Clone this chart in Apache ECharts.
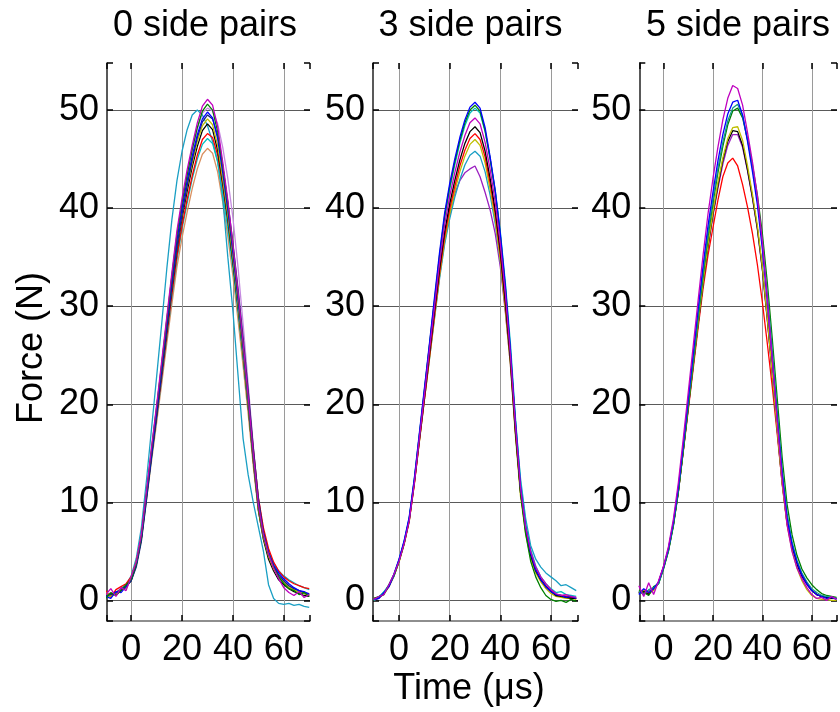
<!DOCTYPE html>
<html><head><meta charset="utf-8">
<script src="https://cdn.jsdelivr.net/npm/echarts@6/dist/echarts.min.js"></script>
<style>html,body{margin:0;padding:0;background:#fff}#c{width:840px;height:712px}</style>
</head><body><div id="c"></div>
<script>
// time axis (microseconds), sampled every 2 us
const time = [-10,-8,-6,-4,-2,0,2,4,6,8,10,12,14,16,18,20,22,24,26,28,30,32,34,36,38,40,42,44,46,48,50,52,54,56,58,60,62,64,66,68,70];
const panelTitles = ['0 side pairs','3 side pairs','5 side pairs'];
const xTickLabels = [0,20,40,60];
const yTickLabels = [0,10,20,30,40,50];
const xLabel = 'Time (\u03bcs)';
const yLabel = 'Force (N)';

// ---- 0 side pairs ----
const p0_lavender = [0.5,0.8,0.6,1.2,1.5,2.2,3.8,6.5,10.9,15.3,19.6,24.0,28.5,33.0,37.1,40.4,43.3,45.9,48.1,49.7,50.2,49.9,48.6,46.2,43.0,39.0,34.0,28.2,22.0,15.8,10.4,7.0,4.8,3.4,2.5,1.9,1.4,1.1,0.9,0.7,0.5];
const p0_tan = [0.6,0.5,0.9,1.0,1.5,2.1,3.6,6.2,10.2,14.2,18.1,22.1,26.2,30.2,34.0,37.0,39.6,42.0,44.0,45.5,46.1,45.6,43.7,40.6,37.1,33.1,28.6,23.9,19.0,13.7,9.1,6.3,4.4,3.2,2.4,1.9,1.5,1.2,1.0,0.8,0.6];
const p0_teal = [0.3,0.6,0.8,1.2,1.6,2.5,4.3,7.4,12.2,17.5,22.8,28.2,33.8,38.8,42.8,45.8,48.0,49.5,50.0,49.5,48.4,46.8,44.8,41.0,35.0,29.5,23.0,16.5,12.8,10.0,7.5,5.0,1.6,0.2,-0.3,-0.4,-0.3,-0.5,-0.4,-0.6,-0.7];
const p0_cyan = [0.4,0.7,0.5,1.1,1.3,2.1,3.7,6.3,10.4,14.5,18.5,22.6,26.8,30.9,34.8,37.9,40.5,43.0,45.0,46.5,47.1,46.6,44.7,41.5,37.9,33.9,29.5,24.8,19.8,14.5,9.8,6.9,5.0,3.8,3.0,2.5,2.1,1.8,1.5,1.3,1.1];
const p0_red = [1.0,0.3,1.1,1.4,1.7,2.4,3.9,6.5,10.6,14.7,18.7,22.8,27.0,31.2,35.1,38.2,40.9,43.3,45.4,47.0,47.6,47.2,45.4,42.3,38.8,34.8,30.5,25.8,20.8,15.4,10.5,7.4,5.3,3.9,3.0,2.4,2.0,1.7,1.5,1.3,1.2];
const p0_black = [0.3,0.7,0.6,1.0,1.4,2.0,3.6,6.3,10.6,14.8,18.9,23.2,27.5,31.8,35.8,39.0,41.7,44.2,46.3,47.9,48.6,48.0,45.9,42.5,38.8,34.5,29.9,25.0,19.8,14.2,9.2,6.2,4.2,3.0,2.1,1.6,1.2,0.9,0.7,0.5,0.4];
const p0_olive = [0.8,0.4,0.7,1.2,1.2,2.3,3.9,6.6,10.8,15.0,19.2,23.4,27.8,32.1,36.2,39.4,42.2,44.6,46.8,48.4,49.1,48.5,46.4,42.9,39.2,34.9,30.2,25.2,20.0,14.4,9.4,6.4,4.5,3.2,2.3,1.8,1.3,1.1,0.8,0.7,0.5];
const p0_navy = [0.5,0.6,0.8,1.1,1.5,2.0,3.4,6.0,10.2,14.6,18.9,23.2,27.6,32.0,36.1,39.4,42.3,44.9,47.2,48.8,49.5,49.1,47.4,44.3,40.6,36.4,31.8,26.8,21.4,15.6,10.4,7.0,4.9,3.5,2.6,2.0,1.5,1.2,1.0,0.8,0.7];
const p0_blue = [0.4,0.2,0.9,0.8,1.4,2.1,3.7,6.4,10.7,15.0,19.3,23.7,28.2,32.6,36.7,40.0,42.8,45.3,47.5,49.1,49.8,49.2,47.1,43.6,39.8,35.4,30.7,25.7,20.4,14.7,9.7,6.7,4.8,3.6,2.8,2.2,1.7,1.3,1.0,0.9,0.6];
const p0_green = [0.2,0.8,0.5,1.0,1.6,2.1,3.7,6.4,10.9,15.4,19.7,24.1,28.6,33.1,37.3,40.6,43.4,46.0,48.2,49.9,50.6,50.0,47.8,44.3,40.4,36.0,31.2,26.1,20.6,14.8,9.7,6.6,4.7,3.4,2.4,1.7,1.2,1.0,0.6,0.8,0.4];
const p0_magenta = [0.6,1.2,0.4,1.3,1.0,2.4,3.9,6.7,11.1,15.6,19.9,24.4,28.9,33.4,37.7,41.0,43.9,46.4,48.7,50.4,51.1,50.5,48.3,44.7,40.8,36.3,31.5,26.3,20.8,15.0,9.8,6.7,4.7,3.3,2.2,1.3,0.8,0.5,0.9,0.3,0.6];

// ---- 3 side pairs ----
const p1_purple = [0.0,0.2,0.7,1.4,2.5,4.0,5.8,8.1,11.9,16.2,20.5,24.8,29.0,33.1,36.6,39.2,41.5,42.8,43.6,44.0,44.3,43.2,41.6,39.8,37.4,34.0,29.4,24.0,17.0,11.0,7.2,4.7,3.1,2.1,1.4,0.9,0.6,0.5,0.4,0.3,0.2];
const p1_teal = [0.1,0.4,0.8,1.6,2.7,4.2,6.0,8.3,12.0,16.3,20.5,24.6,28.7,32.8,36.3,38.9,41.1,42.9,44.4,45.4,45.8,45.3,43.7,41.3,38.4,34.6,29.8,24.6,18.2,12.4,8.4,5.6,4.2,3.4,2.8,2.4,2.0,1.5,1.6,1.3,1.0];
const p1_olive = [0.0,0.3,0.6,1.4,2.5,3.9,5.7,8.0,11.8,16.1,20.4,24.6,28.9,33.1,36.7,39.4,41.7,43.7,45.3,46.5,47.0,46.4,44.6,41.9,38.8,34.7,29.6,24.0,16.7,10.6,6.8,4.3,2.8,1.9,1.2,0.7,0.4,0.3,0.2,0.2,0.1];
const p1_red = [0.2,0.3,0.8,1.5,2.5,4.0,5.8,8.1,11.8,16.2,20.5,24.8,29.1,33.4,37.1,39.9,42.2,44.3,45.9,47.1,47.6,47.0,45.2,42.5,39.4,35.3,30.2,24.6,17.3,11.2,7.3,4.8,3.2,2.2,1.5,1.0,0.6,0.5,0.4,0.3,0.2];
const p1_black = [0.0,0.3,0.7,1.5,2.6,4.1,5.9,8.2,12.0,16.4,20.7,25.1,29.5,33.8,37.6,40.4,42.8,44.9,46.6,47.8,48.3,47.7,45.8,43.0,39.8,35.6,30.4,24.4,17.1,11.0,7.2,4.6,3.0,2.1,1.4,0.9,0.5,0.4,0.3,0.2,0.2];
const p1_cyan = [0.0,0.3,0.9,1.5,2.5,4.1,6.0,8.4,12.3,16.8,21.3,25.9,30.4,34.9,38.9,41.9,44.4,46.6,48.4,49.7,50.2,49.7,47.8,45.0,41.8,37.6,32.4,26.2,18.6,12.0,7.9,5.2,3.5,2.4,1.7,1.2,0.8,0.9,0.6,0.5,0.4];
const p1_green = [0.2,0.4,0.6,1.6,2.6,4.0,5.8,8.3,12.2,16.8,21.4,26.0,30.6,35.2,39.2,42.2,44.7,46.9,48.7,50.0,50.5,49.9,47.9,45.0,41.6,37.2,31.8,25.2,17.8,11.0,6.8,4.0,2.4,1.3,0.5,0.1,-0.1,0.0,-0.2,0.1,-0.1];
const p1_blue = [0.1,0.2,0.8,1.4,2.7,4.2,6.1,8.5,12.4,17.0,21.6,26.2,30.9,35.5,39.5,42.5,45.0,47.2,49.0,50.3,50.8,50.2,48.2,45.2,41.8,37.4,32.1,25.6,18.2,11.6,7.5,4.8,3.1,2.1,1.4,0.9,0.6,0.5,0.3,0.4,0.2];
const p1_magenta = [0.1,0.4,0.6,1.6,2.7,4.0,5.8,8.1,11.9,16.5,20.9,25.5,29.9,34.4,38.3,41.2,43.6,45.7,47.4,48.7,49.2,48.6,46.7,43.9,40.6,36.3,31.2,25.0,17.8,11.5,7.5,5.0,3.4,2.4,1.7,1.1,0.7,0.5,0.6,0.4,0.3];

// ---- 5 side pairs ----
const p2_red = [0.8,1.0,0.7,1.1,1.8,3.4,5.2,7.8,11.1,15.2,19.4,23.6,27.8,31.8,35.2,38.0,40.8,43.2,44.6,45.1,44.3,42.4,40.1,37.4,34.2,30.4,26.2,21.8,17.0,12.0,7.9,5.4,3.7,2.5,1.7,1.0,0.6,0.4,0.3,0.2,0.2];
const p2_purple = [0.9,0.7,1.0,1.1,1.8,3.4,5.2,7.8,11.2,15.4,19.7,24.0,28.3,32.3,36.0,39.2,42.0,44.5,46.4,47.5,47.5,46.2,43.8,41.0,37.8,33.7,28.6,23.1,17.3,11.9,7.8,5.3,3.6,2.4,1.6,1.0,0.6,0.4,0.3,0.2,0.2];
const p2_black = [0.8,0.9,0.6,1.2,1.8,3.3,5.1,7.7,11.1,15.3,19.6,23.9,28.2,32.3,36.1,39.4,42.3,44.9,46.8,47.9,47.8,46.4,43.9,41.1,37.9,33.8,28.7,23.2,17.5,12.1,7.9,5.4,3.7,2.5,1.7,1.0,0.6,0.4,0.3,0.2,0.2];
const p2_olive = [0.7,1.1,0.9,1.0,1.8,3.4,5.2,7.8,11.2,15.4,19.7,24.0,28.3,32.4,36.3,39.6,42.6,45.1,47.1,48.2,48.3,46.9,44.3,41.4,38.2,34.0,28.8,23.2,17.4,11.9,7.7,5.1,3.3,2.0,1.1,0.5,0.2,0.1,0.1,0.0,0.0];
const p2_green = [1.0,0.8,0.5,1.4,1.7,3.2,5.0,7.6,11.0,15.3,19.8,24.3,28.8,33.1,37.1,40.5,43.6,46.3,48.5,49.9,50.2,49.2,47.0,44.4,41.3,37.4,32.4,26.7,20.6,14.6,9.8,6.7,4.6,3.2,2.3,1.6,1.1,0.7,0.5,0.4,0.3];
const p2_teal = [0.9,0.6,1.1,1.3,1.7,3.3,5.1,7.8,11.3,15.6,20.1,24.6,29.1,33.5,37.5,40.9,44.0,46.7,48.9,50.2,50.6,49.4,47.0,44.1,40.8,36.6,31.4,25.6,19.4,13.5,8.9,6.0,4.1,2.8,1.9,1.2,0.8,0.5,0.4,0.3,0.2];
const p2_blue = [0.6,1.2,0.8,1.2,1.9,3.4,5.3,8.0,11.5,15.9,20.5,25.1,29.7,34.1,38.2,41.6,44.8,47.5,49.6,50.8,51.0,49.5,46.8,43.7,40.3,35.8,30.4,24.6,18.6,12.9,8.4,5.7,3.9,2.6,1.7,1.0,0.6,0.4,0.2,0.3,0.1];
const p2_magenta = [1.5,0.4,1.8,0.6,2.0,3.5,5.5,8.3,12.0,16.5,21.2,25.9,30.6,35.2,39.4,43.0,46.2,49.0,51.2,52.5,52.2,50.5,47.7,44.7,41.2,36.6,30.8,24.6,18.2,12.3,7.7,5.0,3.3,2.2,1.3,0.6,0.2,0.3,0.0,0.4,0.1];

const C = {blue:'#0000ff', green:'#008000', red:'#ff0000', cyan:'#00bfbf', magenta:'#bf00bf', olive:'#bfbf00', black:'#000000', navy:'#1a237e', teal:'#1a9fc4', tan:'#d9905f', lavender:'#c58ae0', purple:'#9b1fc0', teal2:'#139c8c'};

const panels = [
  [[p0_lavender,C.lavender],[p0_tan,C.tan],[p0_teal,C.teal],[p0_cyan,C.cyan],[p0_red,C.red],[p0_black,C.black],[p0_olive,C.olive],[p0_navy,C.navy],[p0_blue,C.blue],[p0_green,C.green],[p0_magenta,C.magenta]],
  [[p1_purple,C.purple],[p1_teal,C.teal],[p1_olive,C.olive],[p1_red,C.red],[p1_black,C.black],[p1_cyan,C.cyan],[p1_green,C.green],[p1_blue,C.blue],[p1_magenta,C.magenta]],
  [[p2_red,C.red],[p2_purple,C.purple],[p2_black,C.black],[p2_olive,C.olive],[p2_green,C.green],[p2_teal,C.teal2],[p2_blue,C.blue],[p2_magenta,C.magenta]]
];

const gridBoxes = [
  {left:107, top:63, width:203, height:558},
  {left:373, top:63, width:205, height:558},
  {left:639.3, top:63, width:204.6, height:558}
];
const xRanges = [[-9.5,70.3],[-10.3,70.7],[-9.8,70.2]];
const yRange = [-2.1, 54.8];
const FONT = "'Liberation Sans', Arial, sans-serif";
const FS = 36;

const grid = [], xAxis = [], yAxis = [], series = [];
gridBoxes.forEach((g, i) => {
  grid.push(Object.assign({containLabel:false}, g));
  const tick = {show:true, inside:true, length:6, lineStyle:{color:'#000', width:1.5}};
  xAxis.push({type:'value', gridIndex:i, position:'bottom', min:xRanges[i][0], max:xRanges[i][1], minInterval:20, maxInterval:20,
    axisLine:{show:true, onZero:false, lineStyle:{color:'#6a6a6a', width:1.5}},
    axisTick:tick,
    axisLabel:{show:true, margin:11, fontSize:FS, fontFamily:FONT, color:'#000', formatter:v => xTickLabels.includes(v) ? String(v) : ''},
    splitLine:{show:true, showMinLine:false, showMaxLine:false, lineStyle:{color:'#9a9a9a', width:1}}});
  xAxis.push({type:'value', gridIndex:i, position:'top', min:xRanges[i][0], max:xRanges[i][1], minInterval:20, maxInterval:20,
    axisLine:{show:false, onZero:false}, axisTick:tick, axisLabel:{show:false}, splitLine:{show:false}});
  yAxis.push({type:'value', gridIndex:i, position:'left', min:yRange[0], max:yRange[1], minInterval:10, maxInterval:10,
    axisLine:{show:true, onZero:false, lineStyle:{color:'#222', width:1.5}},
    axisTick:tick,
    axisLabel:{show:true, margin:8, fontSize:FS, fontFamily:FONT, color:'#000', formatter:v => yTickLabels.includes(v) ? String(v) : ''},
    splitLine:{show:true, showMinLine:false, showMaxLine:false, lineStyle:{color:'#5a5a5a', width:1}}});
  yAxis.push({type:'value', gridIndex:i, position:'right', min:yRange[0], max:yRange[1], minInterval:10, maxInterval:10,
    axisLine:{show:false, onZero:false}, axisTick:tick, axisLabel:{show:false}, splitLine:{show:false}});
  panels[i].forEach(([vals, col]) => {
    series.push({type:'line', xAxisIndex:2*i, yAxisIndex:2*i, showSymbol:false, symbol:'none', animation:false,
      lineStyle:{color:col, width:1.3}, itemStyle:{color:col},
      data: time.map((t, k) => [t, vals[k]])});
  });
});

const titleX = [205, 470.5, 738];
const graphic = panelTitles.map((t, i) => ({type:'text', x:titleX[i], y:26,
  style:{text:t, font:`${FS}px ${FONT}`, fill:'#000', textAlign:'center', textVerticalAlign:'middle'}}));
graphic.push({type:'text', x:469, y:689, style:{text:xLabel, font:`${FS}px ${FONT}`, fill:'#000', textAlign:'center', textVerticalAlign:'middle'}});
graphic.push({type:'text', x:32, y:348, rotation:Math.PI/2, style:{text:yLabel, font:`${FS}px ${FONT}`, fill:'#000', textAlign:'center', textVerticalAlign:'middle'}});

const chart = echarts.init(document.getElementById('c'), null, {renderer:'canvas'});
chart.setOption({animation:false, backgroundColor:'#fff', grid, xAxis, yAxis, series, graphic, tooltip:{show:false}});
</script>
</body></html>
